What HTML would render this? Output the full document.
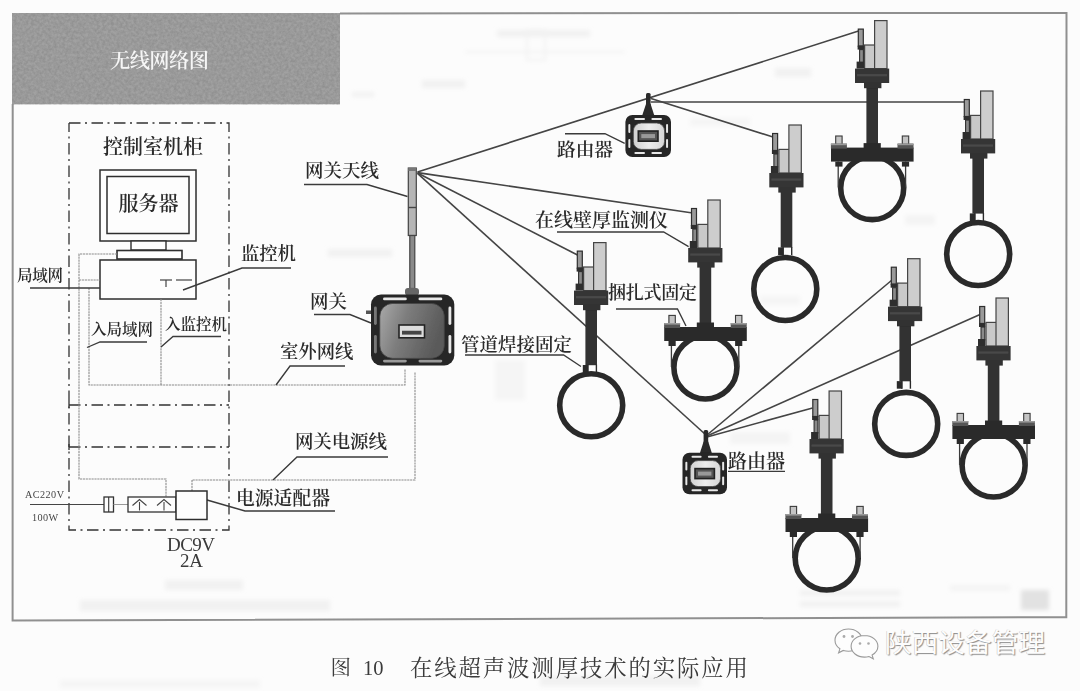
<!DOCTYPE html>
<html lang="zh-CN"><head><meta charset="utf-8"><title>图10 在线超声波测厚技术的实际应用</title>
<style>html,body{margin:0;padding:0;background:#fcfcfc;}body{width:1080px;height:691px;overflow:hidden;}svg{display:block;}</style>
</head><body>
<svg width="1080" height="691" viewBox="0 0 1080 691" font-family="'Liberation Serif','Noto Serif CJK SC',serif">
<defs>
<linearGradient id="faceD" x1="0" y1="0" x2="1" y2="0.3"><stop offset="0" stop-color="#a9a9a9"/><stop offset="0.45" stop-color="#7c7c7c"/><stop offset="1" stop-color="#5a5a5a"/></linearGradient>
<linearGradient id="faceL" x1="0" y1="0" x2="1" y2="0"><stop offset="0" stop-color="#d0d0d0"/><stop offset="0.5" stop-color="#ececec"/><stop offset="1" stop-color="#d6d6d6"/></linearGradient>
<filter id="soft" x="-2%" y="-2%" width="104%" height="104%"><feGaussianBlur stdDeviation="0.45"/></filter>
<filter id="noise" x="0" y="0" width="100%" height="100%"><feTurbulence type="fractalNoise" baseFrequency="0.35" numOctaves="3" seed="7" result="n"/><feColorMatrix type="matrix" values="0 0 0 0 0  0 0 0 0 0  0 0 0 0 0  1.6 0 0 0 -0.45"/></filter>
<filter id="ghost" x="-10%" y="-50%" width="120%" height="200%"><feGaussianBlur stdDeviation="2"/></filter>
</defs>
<rect x="0" y="0" width="1080" height="691" fill="#fcfcfc" stroke="none" stroke-width="1" rx="0" />
<g id="ghosts" filter="url(#ghost)" fill="#f1f1f1">
<rect x="497" y="30" width="93" height="7"/>
<rect x="465" y="51" width="160" height="2"/>
<rect x="527" y="30" width="18" height="30" fill="none" stroke="#f1f1f1" stroke-width="2"/>
<rect x="422" y="80" width="43" height="8"/>
<rect x="352" y="92" width="22" height="5"/>
<rect x="775" y="68" width="36" height="9"/>
<rect x="328" y="249" width="64" height="8"/>
<rect x="690" y="118" width="60" height="8" fill="#f5f5f5"/>
<rect x="80" y="600" width="250" height="11"/>
<rect x="165" y="580" width="78" height="10"/>
<rect x="800" y="590" width="100" height="6"/>
<rect x="800" y="601" width="100" height="6"/>
<rect x="1021" y="590" width="28" height="20" fill="#e2e2e2"/>
<rect x="540" y="676" width="160" height="10"/>
<rect x="60" y="680" width="200" height="8" fill="#f5f5f5"/>
<rect x="760" y="296" width="40" height="9" fill="#f5f5f5"/>
<rect x="905" y="215" width="30" height="10" fill="#f4f4f4"/>
<rect x="495" y="360" width="30" height="40" fill="#f5f5f5"/>
<rect x="730" y="432" width="60" height="12" fill="#f4f4f4"/>
<rect x="950" y="585" width="60" height="6" fill="#f4f4f4"/>

</g>
<g filter="url(#soft)">
<polyline points="340,13.4 1066.5,12.9 1066.3,617.2 12.6,620.4 12.7,104" fill="none" stroke="#909090" stroke-width="2" />
<rect x="12" y="13" width="328" height="91.3" fill="#a1a1a1" stroke="none" stroke-width="1" rx="0" />
<rect x="12" y="13" width="328" height="91.3" fill="#000" stroke="none" stroke-width="1" rx="0" filter="url(#noise)" opacity="0.12"/>
<text x="110" y="68.3" font-size="20.3" fill="#f6f6f6" font-weight="600" textLength="99" lengthAdjust="spacing" >无线网络图</text>
<polyline points="69,123 229,123 229,530 69,530 69,123" fill="none" stroke="#333" stroke-width="1.3" stroke-dasharray="11.5 4.5 2 4.5"/>
<line x1="69" y1="405" x2="229" y2="405" stroke="#333" stroke-width="1.3" stroke-dasharray="11.5 4.5 2 4.5"/>
<line x1="69" y1="447" x2="229" y2="447" stroke="#333" stroke-width="1.3" stroke-dasharray="11.5 4.5 2 4.5"/>
<line x1="69" y1="402" x2="69" y2="408" stroke="#333" stroke-width="1.3" />
<line x1="69" y1="444" x2="69" y2="450" stroke="#333" stroke-width="1.3" />
<text x="103" y="154.2" font-size="20" fill="#2b2b2b" font-weight="600" textLength="100" lengthAdjust="spacing" >控制室机柜</text>
<rect x="100" y="170" width="96" height="71" fill="#fdfdfd" stroke="#2e2e2e" stroke-width="1.5" rx="0" />
<rect x="107" y="176.5" width="82" height="57" fill="none" stroke="#2e2e2e" stroke-width="1.5" rx="0" />
<text x="118.5" y="210.5" font-size="20" fill="#2b2b2b" font-weight="600" textLength="60" lengthAdjust="spacing" >服务器</text>
<rect x="131" y="241" width="35" height="9" fill="#fdfdfd" stroke="#2e2e2e" stroke-width="1.4" rx="0" />
<rect x="117" y="250.5" width="65" height="8.5" fill="#fdfdfd" stroke="#2e2e2e" stroke-width="1.6" rx="0" />
<rect x="100" y="260" width="96" height="39" fill="#fdfdfd" stroke="#2e2e2e" stroke-width="1.5" rx="0" />
<polyline points="160,280 172,280" fill="none" stroke="#444" stroke-width="1.2" />
<line x1="166" y1="280" x2="166" y2="287" stroke="#444" stroke-width="1.2" />
<line x1="176" y1="280" x2="192" y2="280" stroke="#444" stroke-width="1.2" />
<polyline points="117,254 79,254 79,479 166,479 166,497" fill="none" stroke="#8c8c8c" stroke-width="1.1" stroke-dasharray="2.2 0.7"/>
<line x1="79" y1="280" x2="100" y2="280" stroke="#8c8c8c" stroke-width="1.1" stroke-dasharray="2.2 0.7"/>
<polyline points="89,288 89,385 405,385 405,369" fill="none" stroke="#8c8c8c" stroke-width="1.1" stroke-dasharray="2.2 0.7"/>
<line x1="161" y1="299" x2="161" y2="385" stroke="#8c8c8c" stroke-width="1.1" stroke-dasharray="2.2 0.7"/>
<polyline points="192,491 192,480 415,480 415,372" fill="none" stroke="#8c8c8c" stroke-width="1.1" stroke-dasharray="2.2 0.7"/>
<text x="17" y="280.6" font-size="15.5" fill="#2b2b2b" font-weight="600" textLength="46" lengthAdjust="spacing" >局域网</text>
<line x1="30" y1="288" x2="100" y2="288" stroke="#3a3a3a" stroke-width="1.35" />
<text x="241" y="259.6" font-size="18.4" fill="#2b2b2b" font-weight="600" textLength="55" lengthAdjust="spacing" >监控机</text>
<polyline points="291,268 242,268 183,290" fill="none" stroke="#3a3a3a" stroke-width="1.35" />
<text x="91" y="334.6" font-size="15.5" fill="#2b2b2b" font-weight="600" textLength="62" lengthAdjust="spacing" >入局域网</text>
<polyline points="147,342 100,342 87,347.5" fill="none" stroke="#3a3a3a" stroke-width="1.35" />
<text x="165" y="329.6" font-size="15.5" fill="#2b2b2b" font-weight="600" textLength="62" lengthAdjust="spacing" >入监控机</text>
<polyline points="221,336.5 173,336.5 161,347" fill="none" stroke="#3a3a3a" stroke-width="1.35" />
<text x="280" y="357.6" font-size="18.4" fill="#2b2b2b" font-weight="600" textLength="73.5" lengthAdjust="spacing" >室外网线</text>
<polyline points="345,366 290,366 276,385" fill="none" stroke="#3a3a3a" stroke-width="1.35" />
<text x="310" y="307.7" font-size="18.5" fill="#2b2b2b" font-weight="600" textLength="37" lengthAdjust="spacing" >网关</text>
<polyline points="314,314.5 350,314.5 371,323" fill="none" stroke="#3a3a3a" stroke-width="1.35" />
<text x="305" y="176.7" font-size="18.5" fill="#2b2b2b" font-weight="600" textLength="74" lengthAdjust="spacing" >网关天线</text>
<polyline points="304,184.5 367,184.5 407.5,196.5" fill="none" stroke="#3a3a3a" stroke-width="1.35" />
<text x="295" y="447.7" font-size="18.5" fill="#2b2b2b" font-weight="600" textLength="92" lengthAdjust="spacing" >网关电源线</text>
<polyline points="388,457 297,457 273,480" fill="none" stroke="#3a3a3a" stroke-width="1.35" />
<text x="236" y="504.8" font-size="18.8" fill="#2b2b2b" font-weight="600" textLength="94" lengthAdjust="spacing" >电源适配器</text>
<polyline points="335,511 245,511 207,500" fill="none" stroke="#3a3a3a" stroke-width="1.35" />
<line x1="30" y1="504.5" x2="104" y2="504.5" stroke="#444" stroke-width="1.2" />
<text x="25" y="497.7" font-size="10.2" fill="#444" font-weight="400" textLength="39" lengthAdjust="spacing" >AC220V</text>
<text x="32" y="520.7" font-size="10.2" fill="#444" font-weight="400" textLength="26" lengthAdjust="spacing" >100W</text>
<rect x="104" y="497" width="9.5" height="15" fill="#fdfdfd" stroke="#333" stroke-width="1.3" rx="0" />
<line x1="108.7" y1="497" x2="108.7" y2="512" stroke="#333" stroke-width="1.1" />
<line x1="113.5" y1="504.5" x2="128" y2="504.5" stroke="#999" stroke-width="1" />
<rect x="128" y="497" width="48" height="15" fill="#fdfdfd" stroke="#333" stroke-width="1.3" rx="0" />
<polyline points="132.5,505.5 139.5,499.5 146.5,505.5" fill="none" stroke="#444" stroke-width="1.1" />
<line x1="139.5" y1="502" x2="139.5" y2="510.5" stroke="#444" stroke-width="1.1" />
<polyline points="157,505.5 164,499.5 171,505.5" fill="none" stroke="#444" stroke-width="1.1" />
<line x1="164" y1="502" x2="164" y2="510.5" stroke="#444" stroke-width="1.1" />
<rect x="176" y="491" width="31" height="28.5" fill="#fdfdfd" stroke="#2e2e2e" stroke-width="1.5" rx="0" />
<text x="167" y="551.3" font-size="19" fill="#3a3a3a" font-weight="400" textLength="48" lengthAdjust="spacing" >DC9V</text>
<text x="180" y="567.3" font-size="19" fill="#3a3a3a" font-weight="400" textLength="23" lengthAdjust="spacing" >2A</text>
<rect x="408.3" y="168" width="8" height="67.5" fill="#b5b5b5" stroke="#444" stroke-width="1.2" rx="0" />
<rect x="408.3" y="168" width="8" height="3" fill="#777" stroke="none" stroke-width="1" rx="0" />
<line x1="408.3" y1="207.5" x2="416.3" y2="207.5" stroke="#444" stroke-width="1.4" />
<rect x="409.8" y="235.5" width="5" height="53" fill="#8a8a8a" stroke="#444" stroke-width="1.2" rx="0" />
<rect x="405" y="288" width="14" height="7.5" fill="#666" stroke="none" stroke-width="1" rx="3" />
<line x1="417.5" y1="172" x2="858.5" y2="31" stroke="#444" stroke-width="1.6" />
<line x1="417.5" y1="172.6" x2="691" y2="212.8" stroke="#444" stroke-width="1.6" />
<line x1="417.5" y1="173" x2="577.5" y2="255" stroke="#444" stroke-width="1.6" />
<line x1="417.5" y1="173.4" x2="706" y2="435" stroke="#444" stroke-width="1.6" />
<line x1="651" y1="102" x2="965" y2="102" stroke="#444" stroke-width="1.6" />
<line x1="651" y1="98.5" x2="773" y2="137" stroke="#444" stroke-width="1.6" />
<line x1="707" y1="435" x2="892" y2="280" stroke="#444" stroke-width="1.6" />
<line x1="707" y1="436" x2="980" y2="314.5" stroke="#444" stroke-width="1.6" />
<line x1="707" y1="437" x2="812.5" y2="408" stroke="#444" stroke-width="1.6" />
<rect x="371" y="294.5" width="83.3" height="71" fill="#262626" stroke="none" stroke-width="1" rx="10" />
<rect x="383" y="297.53" width="23.819" height="2.84" fill="#e8e8e8" stroke="none" stroke-width="1" rx="1.42" />
<rect x="383" y="359.63000000000005" width="23.819" height="2.84" fill="#9a9a9a" stroke="none" stroke-width="1" rx="1.42" />
<rect x="418.481" y="297.53" width="23.819" height="2.84" fill="#e8e8e8" stroke="none" stroke-width="1" rx="1.42" />
<rect x="418.481" y="359.63000000000005" width="23.819" height="2.84" fill="#9a9a9a" stroke="none" stroke-width="1" rx="1.42" />
<rect x="373.98" y="306.5" width="2.84" height="18.53" fill="#777" stroke="none" stroke-width="1" rx="1.42" />
<rect x="448.48" y="306.5" width="2.84" height="18.53" fill="#e8e8e8" stroke="none" stroke-width="1" rx="1.42" />
<rect x="373.98" y="334.97" width="2.84" height="18.53" fill="#777" stroke="none" stroke-width="1" rx="1.42" />
<rect x="448.48" y="334.97" width="2.84" height="18.53" fill="#e8e8e8" stroke="none" stroke-width="1" rx="1.42" />
<rect x="379.8" y="303.4" width="64.5" height="55" rx="13" fill="url(#faceD)" stroke="#444" stroke-width="0.8"/>
<rect x="399" y="325" width="25.5" height="12.8" fill="#dcdcdc" stroke="#222" stroke-width="1.6" rx="0" />
<rect x="402" y="330.76" width="19.5" height="3.84" fill="#444" stroke="none" stroke-width="1" rx="0" />
<rect x="366" y="310.5" width="5" height="3.5" fill="#555" stroke="none" stroke-width="1" rx="0" />
<rect x="646" y="93" width="4.6" height="14" fill="#2a2a2a" stroke="none" stroke-width="1" rx="1.5" />
<path d="M646 104 L650.6 104 L654.5 116 L642 116 Z" fill="#2a2a2a"/>
<rect x="625.4" y="115" width="45.6" height="42" fill="#262626" stroke="none" stroke-width="1" rx="7" />
<rect x="634.4" y="118.0" width="10.608" height="2.0" fill="#e8e8e8" stroke="none" stroke-width="1" rx="1.0" />
<rect x="634.4" y="152.0" width="10.608" height="2.0" fill="#e8e8e8" stroke="none" stroke-width="1" rx="1.0" />
<rect x="651.392" y="118.0" width="10.608" height="2.0" fill="#e8e8e8" stroke="none" stroke-width="1" rx="1.0" />
<rect x="651.392" y="152.0" width="10.608" height="2.0" fill="#e8e8e8" stroke="none" stroke-width="1" rx="1.0" />
<rect x="628.3499999999999" y="124" width="2.0" height="9.059999999999999" fill="#e8e8e8" stroke="none" stroke-width="1" rx="1.0" />
<rect x="666.05" y="124" width="2.0" height="9.059999999999999" fill="#e8e8e8" stroke="none" stroke-width="1" rx="1.0" />
<rect x="628.3499999999999" y="138.94" width="2.0" height="9.059999999999999" fill="#e8e8e8" stroke="none" stroke-width="1" rx="1.0" />
<rect x="666.05" y="138.94" width="2.0" height="9.059999999999999" fill="#e8e8e8" stroke="none" stroke-width="1" rx="1.0" />
<rect x="633.3" y="123" width="31.3" height="26.4" rx="8" fill="url(#faceL)" stroke="#444" stroke-width="0.8"/>
<rect x="638.3" y="131" width="19.7" height="10.2" fill="#555" stroke="#222" stroke-width="1.6" rx="0" />
<rect x="641.3" y="134.06" width="13.7" height="4.08" fill="#999" stroke="none" stroke-width="1" rx="0" />
<text x="557" y="156.4" font-size="18.7" fill="#2b2b2b" font-weight="600" textLength="56" lengthAdjust="spacing" >路由器</text>
<polyline points="565,133.7 605,133.7 624.7,143.3" fill="none" stroke="#3a3a3a" stroke-width="1.35" />
<rect x="703.6" y="430" width="4.6" height="14" fill="#2a2a2a" stroke="none" stroke-width="1" rx="1.5" />
<path d="M703.6 441.5 L708.2 441.5 L712 453.5 L699.8 453.5 Z" fill="#2a2a2a"/>
<rect x="682.5" y="452.8" width="44.5" height="41.4" fill="#262626" stroke="none" stroke-width="1" rx="7" />
<rect x="691.5" y="455.70000000000005" width="10.135" height="2.0" fill="#e8e8e8" stroke="none" stroke-width="1" rx="1.0" />
<rect x="691.5" y="489.29999999999995" width="10.135" height="2.0" fill="#e8e8e8" stroke="none" stroke-width="1" rx="1.0" />
<rect x="707.865" y="455.70000000000005" width="10.135" height="2.0" fill="#e8e8e8" stroke="none" stroke-width="1" rx="1.0" />
<rect x="707.865" y="489.29999999999995" width="10.135" height="2.0" fill="#e8e8e8" stroke="none" stroke-width="1" rx="1.0" />
<rect x="685.35" y="461.8" width="2.0" height="8.802" fill="#e8e8e8" stroke="none" stroke-width="1" rx="1.0" />
<rect x="722.15" y="461.8" width="2.0" height="8.802" fill="#e8e8e8" stroke="none" stroke-width="1" rx="1.0" />
<rect x="685.35" y="476.39799999999997" width="2.0" height="8.802" fill="#e8e8e8" stroke="none" stroke-width="1" rx="1.0" />
<rect x="722.15" y="476.39799999999997" width="2.0" height="8.802" fill="#e8e8e8" stroke="none" stroke-width="1" rx="1.0" />
<rect x="690.2" y="460.6" width="30.4" height="26" rx="8" fill="url(#faceL)" stroke="#444" stroke-width="0.8"/>
<rect x="695" y="468.6" width="19.4" height="10" fill="#555" stroke="#222" stroke-width="1.6" rx="0" />
<rect x="698" y="471.6" width="13.399999999999999" height="4.0" fill="#999" stroke="none" stroke-width="1" rx="0" />
<text x="728" y="467.8" font-size="19" fill="#2b2b2b" font-weight="600" textLength="57" lengthAdjust="spacing" >路由器</text>
<line x1="728" y1="471.3" x2="785" y2="471.3" stroke="#3a3a3a" stroke-width="1.3" />
<rect x="866.4000000000001" y="82.6" width="11.6" height="66" fill="#303030" stroke="none" stroke-width="1" rx="0" />
<rect x="863.6" y="143.1" width="17.2" height="6" fill="#2c2c2c" stroke="none" stroke-width="1" rx="0" />
<circle cx="872.2" cy="188.1" r="31.5" fill="none" stroke="#2a2a2a" stroke-width="5.6"/>
<line x1="838.2" y1="161.6" x2="838.2" y2="187.6" stroke="#3a3a3a" stroke-width="1.3" />
<line x1="905.6" y1="161.6" x2="905.6" y2="187.6" stroke="#3a3a3a" stroke-width="1.3" />
<rect x="831.0" y="147.6" width="82.6" height="14" fill="#2c2c2c" stroke="none" stroke-width="1" rx="0" />
<rect x="835.7" y="136.0" width="6.4" height="8.6" fill="#c4c4c4" stroke="#3a3a3a" stroke-width="1.1" rx="0" />
<rect x="830.9000000000001" y="143.6" width="16" height="5" fill="#555" stroke="none" stroke-width="1" rx="0" />
<rect x="830.9000000000001" y="143.6" width="16" height="1.6" fill="#9a9a9a" stroke="none" stroke-width="1" rx="0" />
<rect x="835.3000000000001" y="161.6" width="7.2" height="5" fill="#2c2c2c" stroke="none" stroke-width="1" rx="0" />
<rect x="902.3" y="136.0" width="6.4" height="8.6" fill="#c4c4c4" stroke="#3a3a3a" stroke-width="1.1" rx="0" />
<rect x="897.5" y="143.6" width="16" height="5" fill="#555" stroke="none" stroke-width="1" rx="0" />
<rect x="897.5" y="143.6" width="16" height="1.6" fill="#9a9a9a" stroke="none" stroke-width="1" rx="0" />
<rect x="901.9" y="161.6" width="7.2" height="5" fill="#2c2c2c" stroke="none" stroke-width="1" rx="0" />
<g transform="translate(855,68.6)">
<rect x="3.3" y="-39.5" width="5" height="17" fill="#9a9a9a" stroke="#2e2e2e" stroke-width="1.2" rx="0" />
<rect x="2.6" y="-23" width="6.4" height="4" fill="#2e2e2e" stroke="none" stroke-width="1" rx="0" />
<rect x="4.6" y="-19" width="3.8" height="13" fill="#8a8a8a" stroke="#2e2e2e" stroke-width="1.1" rx="0" />
<rect x="1.6" y="-7" width="7.4" height="7" fill="#2e2e2e" stroke="none" stroke-width="1" rx="0" />
<rect x="9.6" y="-23.6" width="12" height="23.6" fill="#c9c9c9" stroke="#444" stroke-width="1.2" rx="0" />
<rect x="19.6" y="-48" width="12.4" height="48" fill="#cdcdcd" stroke="#444" stroke-width="1.2" rx="0" />
<rect x="0" y="0" width="34.2" height="14.4" fill="#343434" stroke="none" stroke-width="1" rx="0" />
<rect x="2" y="5.5" width="30" height="2.2" fill="#4a4a4a" stroke="none" stroke-width="1" rx="0" />
<rect x="9" y="14" width="17.4" height="5.6" fill="#303030" stroke="none" stroke-width="1" rx="0" />
</g>
<rect x="780.7" y="187" width="11.6" height="60.6" fill="#303030" stroke="none" stroke-width="1" rx="0" />
<rect x="778.1" y="247.4" width="5.6" height="7.6" fill="#2c2c2c" stroke="none" stroke-width="1" rx="0" />
<line x1="783.1" y1="247" x2="783.1" y2="255" stroke="#2c2c2c" stroke-width="1.4" />
<line x1="791.7" y1="247" x2="791.7" y2="255" stroke="#2c2c2c" stroke-width="1.4" />
<circle cx="785.3" cy="289" r="31.5" fill="none" stroke="#2a2a2a" stroke-width="5.6"/>
<g transform="translate(769.3,173)">
<rect x="3.3" y="-39.5" width="5" height="17" fill="#9a9a9a" stroke="#2e2e2e" stroke-width="1.2" rx="0" />
<rect x="2.6" y="-23" width="6.4" height="4" fill="#2e2e2e" stroke="none" stroke-width="1" rx="0" />
<rect x="4.6" y="-19" width="3.8" height="13" fill="#8a8a8a" stroke="#2e2e2e" stroke-width="1.1" rx="0" />
<rect x="1.6" y="-7" width="7.4" height="7" fill="#2e2e2e" stroke="none" stroke-width="1" rx="0" />
<rect x="9.6" y="-23.6" width="12" height="23.6" fill="#c9c9c9" stroke="#444" stroke-width="1.2" rx="0" />
<rect x="19.6" y="-48" width="12.4" height="48" fill="#cdcdcd" stroke="#444" stroke-width="1.2" rx="0" />
<rect x="0" y="0" width="34.2" height="14.4" fill="#343434" stroke="none" stroke-width="1" rx="0" />
<rect x="2" y="5.5" width="30" height="2.2" fill="#4a4a4a" stroke="none" stroke-width="1" rx="0" />
<rect x="9" y="14" width="17.4" height="5.6" fill="#303030" stroke="none" stroke-width="1" rx="0" />
</g>
<rect x="699.6000000000001" y="262" width="11.6" height="66" fill="#303030" stroke="none" stroke-width="1" rx="0" />
<rect x="696.8000000000001" y="322.5" width="17.2" height="6" fill="#2c2c2c" stroke="none" stroke-width="1" rx="0" />
<circle cx="705.4000000000001" cy="367.5" r="31.5" fill="none" stroke="#2a2a2a" stroke-width="5.6"/>
<line x1="671.4000000000001" y1="341" x2="671.4000000000001" y2="367" stroke="#3a3a3a" stroke-width="1.3" />
<line x1="738.8000000000001" y1="341" x2="738.8000000000001" y2="367" stroke="#3a3a3a" stroke-width="1.3" />
<rect x="664.2" y="327" width="82.6" height="14" fill="#2c2c2c" stroke="none" stroke-width="1" rx="0" />
<rect x="668.9000000000001" y="315.4" width="6.4" height="8.6" fill="#c4c4c4" stroke="#3a3a3a" stroke-width="1.1" rx="0" />
<rect x="664.1000000000001" y="323" width="16" height="5" fill="#555" stroke="none" stroke-width="1" rx="0" />
<rect x="664.1000000000001" y="323" width="16" height="1.6" fill="#9a9a9a" stroke="none" stroke-width="1" rx="0" />
<rect x="668.5000000000001" y="341" width="7.2" height="5" fill="#2c2c2c" stroke="none" stroke-width="1" rx="0" />
<rect x="735.5" y="315.4" width="6.4" height="8.6" fill="#c4c4c4" stroke="#3a3a3a" stroke-width="1.1" rx="0" />
<rect x="730.7" y="323" width="16" height="5" fill="#555" stroke="none" stroke-width="1" rx="0" />
<rect x="730.7" y="323" width="16" height="1.6" fill="#9a9a9a" stroke="none" stroke-width="1" rx="0" />
<rect x="735.1" y="341" width="7.2" height="5" fill="#2c2c2c" stroke="none" stroke-width="1" rx="0" />
<g transform="translate(688.2,248)">
<rect x="3.3" y="-39.5" width="5" height="17" fill="#9a9a9a" stroke="#2e2e2e" stroke-width="1.2" rx="0" />
<rect x="2.6" y="-23" width="6.4" height="4" fill="#2e2e2e" stroke="none" stroke-width="1" rx="0" />
<rect x="4.6" y="-19" width="3.8" height="13" fill="#8a8a8a" stroke="#2e2e2e" stroke-width="1.1" rx="0" />
<rect x="1.6" y="-7" width="7.4" height="7" fill="#2e2e2e" stroke="none" stroke-width="1" rx="0" />
<rect x="9.6" y="-23.6" width="12" height="23.6" fill="#c9c9c9" stroke="#444" stroke-width="1.2" rx="0" />
<rect x="19.6" y="-48" width="12.4" height="48" fill="#cdcdcd" stroke="#444" stroke-width="1.2" rx="0" />
<rect x="0" y="0" width="34.2" height="14.4" fill="#343434" stroke="none" stroke-width="1" rx="0" />
<rect x="2" y="5.5" width="30" height="2.2" fill="#4a4a4a" stroke="none" stroke-width="1" rx="0" />
<rect x="9" y="14" width="17.4" height="5.6" fill="#303030" stroke="none" stroke-width="1" rx="0" />
</g>
<rect x="972.4000000000001" y="153" width="11.6" height="60.6" fill="#303030" stroke="none" stroke-width="1" rx="0" />
<rect x="969.8000000000001" y="213.4" width="5.6" height="7.6" fill="#2c2c2c" stroke="none" stroke-width="1" rx="0" />
<line x1="974.8000000000001" y1="213" x2="974.8000000000001" y2="221" stroke="#2c2c2c" stroke-width="1.4" />
<line x1="983.4000000000001" y1="213" x2="983.4000000000001" y2="221" stroke="#2c2c2c" stroke-width="1.4" />
<circle cx="978.2" cy="254" r="31.5" fill="none" stroke="#2a2a2a" stroke-width="5.6"/>
<g transform="translate(961,139)">
<rect x="3.3" y="-39.5" width="5" height="17" fill="#9a9a9a" stroke="#2e2e2e" stroke-width="1.2" rx="0" />
<rect x="2.6" y="-23" width="6.4" height="4" fill="#2e2e2e" stroke="none" stroke-width="1" rx="0" />
<rect x="4.6" y="-19" width="3.8" height="13" fill="#8a8a8a" stroke="#2e2e2e" stroke-width="1.1" rx="0" />
<rect x="1.6" y="-7" width="7.4" height="7" fill="#2e2e2e" stroke="none" stroke-width="1" rx="0" />
<rect x="9.6" y="-23.6" width="12" height="23.6" fill="#c9c9c9" stroke="#444" stroke-width="1.2" rx="0" />
<rect x="19.6" y="-48" width="12.4" height="48" fill="#cdcdcd" stroke="#444" stroke-width="1.2" rx="0" />
<rect x="0" y="0" width="34.2" height="14.4" fill="#343434" stroke="none" stroke-width="1" rx="0" />
<rect x="2" y="5.5" width="30" height="2.2" fill="#4a4a4a" stroke="none" stroke-width="1" rx="0" />
<rect x="9" y="14" width="17.4" height="5.6" fill="#303030" stroke="none" stroke-width="1" rx="0" />
</g>
<rect x="899.4000000000001" y="320.7" width="11.6" height="60.6" fill="#303030" stroke="none" stroke-width="1" rx="0" />
<rect x="896.8000000000001" y="381.1" width="5.6" height="7.6" fill="#2c2c2c" stroke="none" stroke-width="1" rx="0" />
<line x1="901.8000000000001" y1="380.7" x2="901.8000000000001" y2="388.7" stroke="#2c2c2c" stroke-width="1.4" />
<line x1="910.4000000000001" y1="380.7" x2="910.4000000000001" y2="388.7" stroke="#2c2c2c" stroke-width="1.4" />
<circle cx="906.2" cy="423.9" r="31.5" fill="none" stroke="#2a2a2a" stroke-width="5.6"/>
<g transform="translate(888,306.7)">
<rect x="3.3" y="-39.5" width="5" height="17" fill="#9a9a9a" stroke="#2e2e2e" stroke-width="1.2" rx="0" />
<rect x="2.6" y="-23" width="6.4" height="4" fill="#2e2e2e" stroke="none" stroke-width="1" rx="0" />
<rect x="4.6" y="-19" width="3.8" height="13" fill="#8a8a8a" stroke="#2e2e2e" stroke-width="1.1" rx="0" />
<rect x="1.6" y="-7" width="7.4" height="7" fill="#2e2e2e" stroke="none" stroke-width="1" rx="0" />
<rect x="9.6" y="-23.6" width="12" height="23.6" fill="#c9c9c9" stroke="#444" stroke-width="1.2" rx="0" />
<rect x="19.6" y="-48" width="12.4" height="48" fill="#cdcdcd" stroke="#444" stroke-width="1.2" rx="0" />
<rect x="0" y="0" width="34.2" height="14.4" fill="#343434" stroke="none" stroke-width="1" rx="0" />
<rect x="2" y="5.5" width="30" height="2.2" fill="#4a4a4a" stroke="none" stroke-width="1" rx="0" />
<rect x="9" y="14" width="17.4" height="5.6" fill="#303030" stroke="none" stroke-width="1" rx="0" />
</g>
<rect x="987.8000000000001" y="360" width="11.6" height="66" fill="#303030" stroke="none" stroke-width="1" rx="0" />
<rect x="985.0" y="420.5" width="17.2" height="6" fill="#2c2c2c" stroke="none" stroke-width="1" rx="0" />
<circle cx="993.6" cy="465.5" r="31.5" fill="none" stroke="#2a2a2a" stroke-width="5.6"/>
<line x1="959.6" y1="439" x2="959.6" y2="465" stroke="#3a3a3a" stroke-width="1.3" />
<line x1="1027.0" y1="439" x2="1027.0" y2="465" stroke="#3a3a3a" stroke-width="1.3" />
<rect x="952.4" y="425" width="82.6" height="14" fill="#2c2c2c" stroke="none" stroke-width="1" rx="0" />
<rect x="957.1" y="413.4" width="6.4" height="8.6" fill="#c4c4c4" stroke="#3a3a3a" stroke-width="1.1" rx="0" />
<rect x="952.3000000000001" y="421" width="16" height="5" fill="#555" stroke="none" stroke-width="1" rx="0" />
<rect x="952.3000000000001" y="421" width="16" height="1.6" fill="#9a9a9a" stroke="none" stroke-width="1" rx="0" />
<rect x="956.7" y="439" width="7.2" height="5" fill="#2c2c2c" stroke="none" stroke-width="1" rx="0" />
<rect x="1023.7" y="413.4" width="6.4" height="8.6" fill="#c4c4c4" stroke="#3a3a3a" stroke-width="1.1" rx="0" />
<rect x="1018.9000000000001" y="421" width="16" height="5" fill="#555" stroke="none" stroke-width="1" rx="0" />
<rect x="1018.9000000000001" y="421" width="16" height="1.6" fill="#9a9a9a" stroke="none" stroke-width="1" rx="0" />
<rect x="1023.3000000000001" y="439" width="7.2" height="5" fill="#2c2c2c" stroke="none" stroke-width="1" rx="0" />
<g transform="translate(976.4,346)">
<rect x="3.3" y="-39.5" width="5" height="17" fill="#9a9a9a" stroke="#2e2e2e" stroke-width="1.2" rx="0" />
<rect x="2.6" y="-23" width="6.4" height="4" fill="#2e2e2e" stroke="none" stroke-width="1" rx="0" />
<rect x="4.6" y="-19" width="3.8" height="13" fill="#8a8a8a" stroke="#2e2e2e" stroke-width="1.1" rx="0" />
<rect x="1.6" y="-7" width="7.4" height="7" fill="#2e2e2e" stroke="none" stroke-width="1" rx="0" />
<rect x="9.6" y="-23.6" width="12" height="23.6" fill="#c9c9c9" stroke="#444" stroke-width="1.2" rx="0" />
<rect x="19.6" y="-48" width="12.4" height="48" fill="#cdcdcd" stroke="#444" stroke-width="1.2" rx="0" />
<rect x="0" y="0" width="34.2" height="14.4" fill="#343434" stroke="none" stroke-width="1" rx="0" />
<rect x="2" y="5.5" width="30" height="2.2" fill="#4a4a4a" stroke="none" stroke-width="1" rx="0" />
<rect x="9" y="14" width="17.4" height="5.6" fill="#303030" stroke="none" stroke-width="1" rx="0" />
</g>
<rect x="820.9000000000001" y="453" width="11.6" height="66" fill="#303030" stroke="none" stroke-width="1" rx="0" />
<rect x="818.1" y="513.5" width="17.2" height="6" fill="#2c2c2c" stroke="none" stroke-width="1" rx="0" />
<circle cx="826.7" cy="558.5" r="31.5" fill="none" stroke="#2a2a2a" stroke-width="5.6"/>
<line x1="792.7" y1="532" x2="792.7" y2="558" stroke="#3a3a3a" stroke-width="1.3" />
<line x1="860.1" y1="532" x2="860.1" y2="558" stroke="#3a3a3a" stroke-width="1.3" />
<rect x="785.5" y="518" width="82.6" height="14" fill="#2c2c2c" stroke="none" stroke-width="1" rx="0" />
<rect x="790.2" y="506.4" width="6.4" height="8.6" fill="#c4c4c4" stroke="#3a3a3a" stroke-width="1.1" rx="0" />
<rect x="785.4000000000001" y="514" width="16" height="5" fill="#555" stroke="none" stroke-width="1" rx="0" />
<rect x="785.4000000000001" y="514" width="16" height="1.6" fill="#9a9a9a" stroke="none" stroke-width="1" rx="0" />
<rect x="789.8000000000001" y="532" width="7.2" height="5" fill="#2c2c2c" stroke="none" stroke-width="1" rx="0" />
<rect x="856.8" y="506.4" width="6.4" height="8.6" fill="#c4c4c4" stroke="#3a3a3a" stroke-width="1.1" rx="0" />
<rect x="852.0" y="514" width="16" height="5" fill="#555" stroke="none" stroke-width="1" rx="0" />
<rect x="852.0" y="514" width="16" height="1.6" fill="#9a9a9a" stroke="none" stroke-width="1" rx="0" />
<rect x="856.4" y="532" width="7.2" height="5" fill="#2c2c2c" stroke="none" stroke-width="1" rx="0" />
<g transform="translate(809.5,439)">
<rect x="3.3" y="-39.5" width="5" height="17" fill="#9a9a9a" stroke="#2e2e2e" stroke-width="1.2" rx="0" />
<rect x="2.6" y="-23" width="6.4" height="4" fill="#2e2e2e" stroke="none" stroke-width="1" rx="0" />
<rect x="4.6" y="-19" width="3.8" height="13" fill="#8a8a8a" stroke="#2e2e2e" stroke-width="1.1" rx="0" />
<rect x="1.6" y="-7" width="7.4" height="7" fill="#2e2e2e" stroke="none" stroke-width="1" rx="0" />
<rect x="9.6" y="-23.6" width="12" height="23.6" fill="#c9c9c9" stroke="#444" stroke-width="1.2" rx="0" />
<rect x="19.6" y="-48" width="12.4" height="48" fill="#cdcdcd" stroke="#444" stroke-width="1.2" rx="0" />
<rect x="0" y="0" width="34.2" height="14.4" fill="#343434" stroke="none" stroke-width="1" rx="0" />
<rect x="2" y="5.5" width="30" height="2.2" fill="#4a4a4a" stroke="none" stroke-width="1" rx="0" />
<rect x="9" y="14" width="17.4" height="5.6" fill="#303030" stroke="none" stroke-width="1" rx="0" />
</g>
<rect x="585.4000000000001" y="304.6" width="11.6" height="60.6" fill="#303030" stroke="none" stroke-width="1" rx="0" />
<rect x="582.8000000000001" y="365.0" width="5.6" height="7.6" fill="#2c2c2c" stroke="none" stroke-width="1" rx="0" />
<line x1="587.8000000000001" y1="364.6" x2="587.8000000000001" y2="372.6" stroke="#2c2c2c" stroke-width="1.4" />
<line x1="596.4000000000001" y1="364.6" x2="596.4000000000001" y2="372.6" stroke="#2c2c2c" stroke-width="1.4" />
<circle cx="591.2" cy="405.20000000000005" r="31.5" fill="none" stroke="#2a2a2a" stroke-width="5.6"/>
<g transform="translate(574,290.6)">
<rect x="3.3" y="-39.5" width="5" height="17" fill="#9a9a9a" stroke="#2e2e2e" stroke-width="1.2" rx="0" />
<rect x="2.6" y="-23" width="6.4" height="4" fill="#2e2e2e" stroke="none" stroke-width="1" rx="0" />
<rect x="4.6" y="-19" width="3.8" height="13" fill="#8a8a8a" stroke="#2e2e2e" stroke-width="1.1" rx="0" />
<rect x="1.6" y="-7" width="7.4" height="7" fill="#2e2e2e" stroke="none" stroke-width="1" rx="0" />
<rect x="9.6" y="-23.6" width="12" height="23.6" fill="#c9c9c9" stroke="#444" stroke-width="1.2" rx="0" />
<rect x="19.6" y="-48" width="12.4" height="48" fill="#cdcdcd" stroke="#444" stroke-width="1.2" rx="0" />
<rect x="0" y="0" width="34.2" height="14.4" fill="#343434" stroke="none" stroke-width="1" rx="0" />
<rect x="2" y="5.5" width="30" height="2.2" fill="#4a4a4a" stroke="none" stroke-width="1" rx="0" />
<rect x="9" y="14" width="17.4" height="5.6" fill="#303030" stroke="none" stroke-width="1" rx="0" />
</g>
<text x="535" y="226.8" font-size="19" fill="#2b2b2b" font-weight="600" textLength="133" lengthAdjust="spacing" >在线壁厚监测仪</text>
<polyline points="557,232 663.6,232 688.6,246.7" fill="none" stroke="#3a3a3a" stroke-width="1.35" />
<text x="608" y="299.0" font-size="18" fill="#2b2b2b" font-weight="600" textLength="89" lengthAdjust="spacing" >捆扎式固定</text>
<polyline points="616,309 677.5,309 686,326" fill="none" stroke="#3a3a3a" stroke-width="1.35" />
<text x="461" y="350.7" font-size="18.5" fill="#2b2b2b" font-weight="600" textLength="111" lengthAdjust="spacing" >管道焊接固定</text>
<polyline points="465,355 563.6,355 581,366.5" fill="none" stroke="#3a3a3a" stroke-width="1.35" />
<text x="330.5" y="675.4" font-size="20.5" fill="#3a3a3a" font-weight="400" style="word-spacing:7px">图 10</text>
<text x="410" y="676.4" font-size="22.4" fill="#3a3a3a" font-weight="400" textLength="338" lengthAdjust="spacing" >在线超声波测厚技术的实际应用</text>
</g>
<g id="wm">
<g fill="#fdfdfd" stroke="#9a9a9a" stroke-width="1.1" filter="url(#soft)">
<path d="M848.5 629 c-7.5 0 -13.5 5 -13.5 11.2 c0 3.5 1.9 6.5 4.9 8.6 l-1.3 4 l4.7 -2.4 c1.6 0.5 3.4 0.8 5.2 0.8 c7.5 0 13.5 -5 13.5 -11.1 c0 -6.2 -6 -11.1 -13.5 -11.1 z"/>
<path d="M864.5 635.5 c-7.4 0 -13.4 4.8 -13.4 10.8 c0 6 6 10.8 13.4 10.8 c1.6 0 3.1 -0.2 4.5 -0.6 l4.3 2.3 l-1.2 -3.7 c3.5 -2 5.8 -5.2 5.8 -8.8 c0 -6 -6 -10.8 -13.4 -10.8 z"/>
<circle cx="844" cy="636.5" r="1.4" fill="#aaa" stroke="none"/><circle cx="852.5" cy="636.5" r="1.4" fill="#aaa" stroke="none"/>
<circle cx="860" cy="643.5" r="1.3" fill="#aaa" stroke="none"/><circle cx="868.5" cy="643.5" r="1.3" fill="#aaa" stroke="none"/>
</g>
<text x="885" y="652" font-size="26.6" textLength="160" lengthAdjust="spacing" font-family="'Liberation Sans','Noto Sans CJK SC',sans-serif" fill="#fdfdfd" style="text-shadow:1px 1px 1px #8c8c8c,-0.5px -0.5px 0.5px #c8c8c8">陕西设备管理</text>
</g>
</svg>
</body></html>
